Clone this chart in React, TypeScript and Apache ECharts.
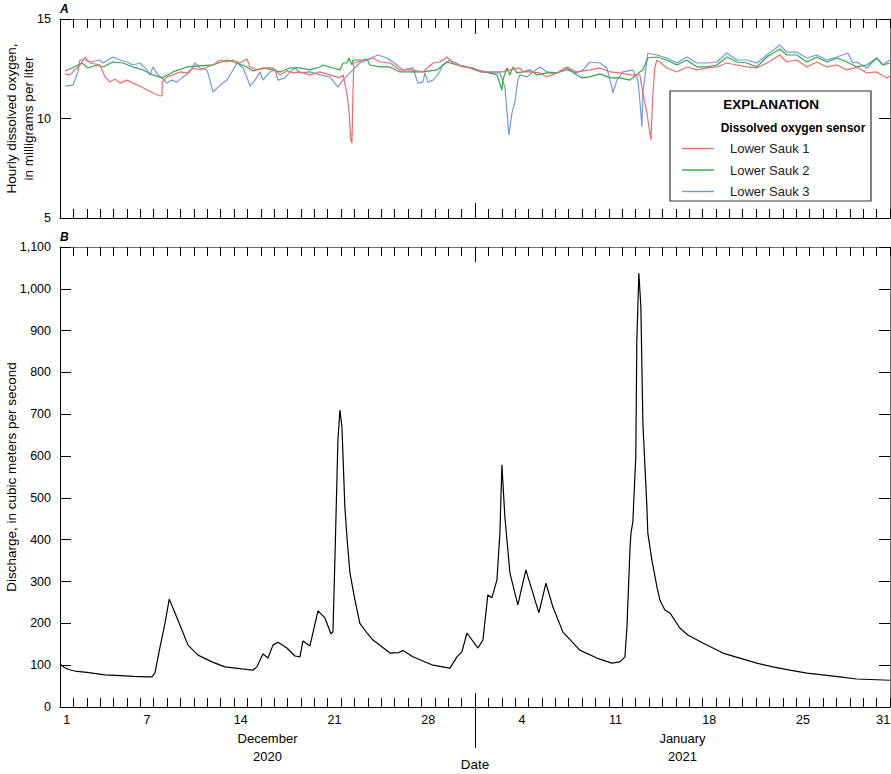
import React, { useEffect, useRef } from 'react';
import * as echarts from 'echarts';

const FONT = '"Liberation Sans", Arial, sans-serif';

// x axis: days since 2020-12-01 00:00
const totalDays = 62;
const yearBoundaryDay = 31;
const dayTickLabels = ['1', '7', '14', '21', '28', '4', '11', '18', '25', '31'];
const dayTickOffsets = [0, 6, 13, 20, 27, 34, 41, 48, 55, 61];
const monthLabels = ['December\n2020', 'January\n2021'];
const monthCenterDays = [15.5, 46.5];

const seriesNames = ['Lower Sauk 1', 'Lower Sauk 2', 'Lower Sauk 3'];
const seriesColors = ['#f06a6a', '#2fa84a', '#7199dc'];

// [day, mg/L]
const lowerSauk1: [number, number][] = [
  [0.37, 12.24], [0.75, 12.19], [1.49, 12.69], [1.87, 13.09], [2.24, 12.79], [2.99, 12.69], [3.14, 12.44], [3.36, 12.09],
  [3.73, 11.83], [4.11, 11.98], [4.48, 11.78], [5.0, 11.93], [5.45, 11.78], [5.97, 11.63], [6.5, 11.43], [6.95, 11.28],
  [7.47, 11.13], [7.62, 11.15], [7.64, 11.83], [7.99, 12.09], [8.44, 12.19], [8.96, 12.34], [9.48, 12.29], [9.93, 12.54],
  [10.46, 12.44], [10.98, 12.59], [11.43, 12.69], [11.95, 12.94], [12.47, 12.84], [12.92, 12.94], [13.44, 12.79], [13.97, 12.99],
  [14.19, 12.59], [14.71, 12.44], [15.46, 12.54], [15.91, 12.54], [16.43, 12.19], [16.95, 12.39], [17.4, 12.29], [17.92, 12.34],
  [18.67, 12.19], [19.42, 12.34], [20.16, 12.19], [20.91, 12.04], [21.14, 12.19], [21.43, 11.28], [21.58, 10.43], [21.73, 8.92],
  [21.81, 8.77], [21.88, 11.28], [21.95, 12.79], [22.18, 12.84], [22.93, 12.94], [23.38, 13.04], [23.9, 12.84], [24.65, 12.79],
  [25.39, 12.44], [26.14, 12.44], [27.11, 12.34], [27.86, 12.79], [28.38, 12.84], [28.9, 13.09], [29.35, 12.79], [30.1, 12.59],
  [30.84, 12.54], [31.59, 12.34], [32.34, 12.34], [33.08, 12.34], [33.61, 12.44], [34.35, 12.54], [34.58, 12.34], [35.1, 12.34],
  [35.85, 12.29], [36.37, 12.09], [37.12, 12.29], [37.86, 12.59], [38.61, 12.34], [39.58, 12.44], [40.33, 12.54], [41.08, 12.34],
  [41.82, 12.29], [42.57, 12.19], [43.31, 12.19], [43.54, 11.28], [43.84, 10.28], [44.14, 8.92], [44.29, 11.28], [44.44, 12.59],
  [44.59, 12.94], [44.81, 12.84], [45.33, 12.54], [46.08, 12.34], [46.83, 12.59], [47.57, 12.44], [48.32, 12.54], [49.07, 12.59],
  [49.81, 12.79], [50.56, 12.69], [51.31, 12.59], [52.05, 12.54], [52.8, 12.79], [53.77, 13.19], [54.29, 12.84], [55.04, 12.94],
  [55.79, 12.59], [56.54, 12.84], [57.27, 12.59], [58.03, 12.69], [58.78, 12.44], [59.52, 12.59], [60.27, 12.29], [61.01, 12.34],
  [61.76, 12.04], [61.99, 12.14],
];

const lowerSauk2: [number, number][] = [
  [0.37, 12.39], [0.9, 12.54], [1.64, 12.79], [2.09, 12.54], [2.76, 12.69], [3.21, 12.59], [3.96, 12.84], [4.71, 12.79],
  [5.45, 12.59], [6.2, 12.44], [6.95, 12.19], [7.62, 12.04], [8.44, 12.34], [9.48, 12.59], [10.46, 12.64], [11.43, 12.69],
  [12.47, 12.94], [13.22, 12.79], [13.97, 12.59], [14.41, 12.39], [15.16, 12.54], [15.91, 12.44], [16.43, 12.34], [17.18, 12.54],
  [17.92, 12.54], [18.67, 12.44], [19.42, 12.59], [19.64, 12.69], [20.39, 12.54], [20.91, 12.44], [21.14, 12.79], [21.43, 12.79],
  [21.58, 13.04], [21.81, 12.69], [21.88, 12.94], [22.63, 12.94], [22.93, 12.99], [23.15, 12.69], [23.9, 12.59], [24.65, 12.59],
  [25.39, 12.34], [26.14, 12.34], [27.11, 12.34], [28.16, 12.44], [28.9, 12.84], [29.65, 12.69], [30.4, 12.59], [31.14, 12.44],
  [32.11, 12.29], [32.64, 12.19], [33.01, 11.43], [33.08, 11.93], [33.38, 12.54], [33.61, 12.19], [33.83, 12.59], [34.13, 12.29],
  [34.58, 12.34], [35.1, 12.44], [35.62, 12.19], [36.37, 12.29], [37.12, 12.29], [37.86, 12.54], [38.61, 12.19], [38.98, 12.04],
  [39.58, 12.09], [40.33, 12.24], [41.08, 12.04], [41.82, 12.04], [42.57, 11.93], [43.31, 12.34], [43.54, 12.44], [43.91, 13.04],
  [44.59, 13.09], [45.33, 12.94], [46.08, 12.69], [46.83, 12.94], [47.57, 12.59], [48.32, 12.59], [49.07, 12.69], [49.81, 13.09],
  [50.56, 12.84], [51.31, 12.79], [52.05, 12.59], [52.8, 13.09], [53.77, 13.49], [54.29, 13.19], [55.04, 13.19], [55.79, 12.84],
  [56.54, 13.09], [57.27, 12.84], [58.03, 13.04], [58.78, 12.84], [59.52, 12.59], [60.27, 12.69], [61.01, 13.04], [61.46, 12.69],
  [61.99, 12.79],
];

const lowerSauk3: [number, number][] = [
  [0.37, 11.63], [0.97, 11.68], [1.34, 12.34], [1.49, 12.94], [1.87, 12.94], [2.24, 12.84], [2.99, 12.94], [3.21, 12.79],
  [3.96, 13.09], [4.48, 12.94], [5.0, 12.84], [5.45, 12.69], [5.97, 12.79], [6.5, 12.44], [6.72, 12.19], [6.95, 12.59],
  [7.32, 12.19], [7.62, 12.04], [7.99, 11.78], [8.36, 11.93], [8.74, 11.83], [9.19, 12.09], [9.71, 12.34], [10.08, 12.79],
  [10.46, 12.54], [10.98, 12.44], [11.2, 11.93], [11.43, 11.33], [11.95, 11.68], [12.47, 11.93], [12.92, 12.44], [13.22, 12.79],
  [13.67, 12.54], [14.04, 11.93], [14.19, 11.63], [14.56, 11.93], [14.94, 12.34], [15.16, 11.93], [15.68, 12.34], [16.06, 12.44],
  [16.28, 11.93], [16.8, 12.04], [17.18, 12.34], [17.55, 12.54], [17.92, 12.29], [18.67, 12.34], [19.42, 12.19], [20.16, 12.09],
  [20.76, 11.58], [21.14, 11.93], [21.51, 12.19], [21.88, 12.44], [22.4, 12.79], [22.93, 12.94], [23.75, 13.19], [24.42, 13.04],
  [24.87, 12.84], [25.62, 12.44], [26.36, 12.54], [26.74, 11.78], [27.11, 11.83], [27.26, 12.29], [27.48, 11.83], [27.86, 11.93],
  [28.23, 12.19], [28.6, 12.69], [29.13, 12.94], [29.87, 12.69], [30.62, 12.54], [31.37, 12.34], [32.11, 12.29], [32.86, 12.29],
  [33.23, 11.58], [33.38, 10.43], [33.53, 9.17], [33.76, 10.28], [33.98, 10.83], [34.2, 11.93], [34.35, 12.19], [34.88, 12.09],
  [35.32, 12.34], [35.85, 12.59], [36.37, 12.34], [37.12, 12.29], [37.86, 12.44], [38.61, 12.29], [39.06, 12.44], [39.58, 12.84],
  [40.33, 12.79], [40.85, 12.54], [41.22, 11.58], [41.3, 11.28], [41.6, 11.93], [42.05, 12.34], [42.79, 12.44], [43.17, 11.93],
  [43.31, 10.93], [43.47, 9.57], [43.54, 11.28], [43.69, 12.09], [43.91, 13.29], [44.59, 13.19], [45.33, 13.04], [46.08, 12.79],
  [46.83, 13.09], [47.57, 12.79], [48.32, 12.79], [49.07, 12.84], [49.81, 13.29], [50.56, 12.94], [51.31, 12.94], [52.05, 12.79],
  [52.8, 13.19], [53.77, 13.69], [54.29, 13.34], [55.04, 13.34], [55.79, 13.04], [56.54, 13.19], [57.27, 12.94], [58.03, 13.09],
  [58.86, 13.29], [59.22, 12.79], [59.52, 12.84], [60.27, 12.54], [61.01, 13.04], [61.46, 12.69], [61.99, 12.94],
];

// [day, m3/s]
const discharge: [number, number][] = [
  [0, 103], [0.3, 95], [0.7, 89], [1.12, 86], [2.0, 83], [3.36, 77], [4.5, 75], [5.5, 73], [6.57, 72], [6.87, 72],
  [7.09, 81], [7.47, 143], [7.84, 200], [8.16, 258], [8.59, 225], [9.11, 184], [9.56, 148], [10.31, 124], [11.35, 108],
  [12.32, 96], [13.59, 91], [14.41, 88], [14.71, 96], [15.16, 127], [15.53, 117], [15.91, 148], [16.28, 155], [16.95, 141],
  [17.55, 122], [17.92, 120], [18.15, 158], [18.67, 146], [19.27, 230], [19.79, 213], [20.24, 175], [20.39, 180], [20.54, 359],
  [20.76, 638], [20.91, 710], [21.06, 670], [21.28, 478], [21.45, 400], [21.66, 320], [22.03, 256], [22.4, 200], [22.93, 177],
  [23.38, 160], [24.65, 129], [25.3, 130], [25.62, 135], [26.36, 120], [27.86, 100], [29.13, 93], [29.65, 120], [30.02, 132],
  [30.4, 177], [31.22, 141], [31.59, 160], [31.96, 268], [32.26, 261], [32.64, 304], [32.86, 416], [33.01, 579], [33.23, 455],
  [33.61, 320], [34.2, 244], [34.8, 328], [35.25, 280], [35.77, 225], [36.3, 296], [36.82, 239], [37.57, 179], [38.83, 136],
  [40.1, 117], [41.22, 105], [41.82, 108], [42.2, 120], [42.35, 191], [42.58, 380], [42.65, 416], [42.79, 442], [43.01, 598],
  [43.09, 877], [43.24, 1038], [43.39, 957], [43.54, 679], [43.84, 478], [43.91, 416], [44.21, 352], [44.59, 287], [44.81, 256],
  [45.18, 232], [45.56, 225], [46.3, 189], [46.9, 172], [48.02, 153], [49.52, 129], [50.78, 117], [52.05, 105], [53.25, 96],
  [54.52, 88], [55.79, 81], [56.98, 77], [58.25, 72], [59.52, 67], [61.99, 64],
];

const doAxis = { min: 5, max: 15, interval: 5 };
const qAxis = { min: 0, max: 1100, interval: 100 };

const BLACK = '#000';
const GREY = '#6b6b6b';

function xBase(gridIndex: number, position: 'top' | 'bottom') {
  return {
    type: 'value', gridIndex, position, min: 0, max: totalDays, interval: 1,
    splitLine: { show: false }, axisLabel: { show: false },
  } as any;
}

function dayTicksAxis(gridIndex: number, position: 'top' | 'bottom', lineColor: string) {
  return {
    ...xBase(gridIndex, position),
    axisLine: { show: true, onZero: false, lineStyle: { color: lineColor, width: 1 } },
    axisTick: { show: true, inside: true, length: 9, lineStyle: { color: BLACK, width: 1 } },
  };
}

function yearTickAxis(gridIndex: number, position: 'top' | 'bottom', inside: boolean, length: number) {
  return {
    ...xBase(gridIndex, position),
    axisLine: { show: false, onZero: false },
    axisTick: { show: true, inside, length, customValues: [yearBoundaryDay], lineStyle: { color: BLACK, width: 1 } },
  };
}

export default function App() {
  const ref = useRef<HTMLDivElement>(null);

  useEffect(() => {
    if (!ref.current) return;
    const chart = echarts.init(ref.current, null, { renderer: 'svg' });

    const bottomLabels = {
      ...dayTicksAxis(1, 'bottom', BLACK),
      axisLabel: {
        show: true,
        customValues: dayTickOffsets.map((d) => d + 0.5),
        formatter: (v: number) => {
          const i = dayTickOffsets.indexOf(Math.round(v - 0.5));
          return i >= 0 ? dayTickLabels[i] : '';
        },
        margin: 6,
        color: BLACK,
        fontFamily: FONT,
        fontSize: 12.5,
      },
    };

    const monthAxis = {
      ...xBase(1, 'bottom'),
      axisLine: { show: false, onZero: false },
      axisTick: { show: false },
      axisLabel: {
        show: true,
        customValues: monthCenterDays,
        formatter: (v: number) => {
          const i = monthCenterDays.indexOf(v);
          return i >= 0 ? monthLabels[i] : '';
        },
        margin: 22,
        lineHeight: 18,
        color: BLACK,
        fontFamily: FONT,
        fontSize: 13,
      },
    };

    const dateAxis = {
      ...yearTickAxis(1, 'bottom', false, 41),
      name: 'Date',
      nameLocation: 'middle',
      nameGap: 50,
      nameMoveOverlap: false,
      nameTextStyle: { color: BLACK, fontFamily: FONT, fontSize: 13.5 },
    };

    const yCommon = (gridIndex: number, position: 'left' | 'right', range: any, lineColor: string) => ({
      type: 'value', gridIndex, position, ...range,
      splitLine: { show: false },
      axisLine: { show: true, onZero: false, lineStyle: { color: lineColor, width: 1 } },
      axisTick: { show: true, inside: true, length: 11, lineStyle: { color: BLACK, width: 1 } },
      axisLabel: { show: false },
    });

    const option: any = {
      animation: false,
      backgroundColor: '#fff',
      textStyle: { fontFamily: FONT },
      title: [
        { text: 'A', left: 60, top: 3, padding: 0, textStyle: { fontFamily: FONT, fontSize: 12, fontWeight: 'bold', fontStyle: 'italic', color: BLACK } },
        { text: 'B', left: 60, top: 231, padding: 0, textStyle: { fontFamily: FONT, fontSize: 12, fontWeight: 'bold', fontStyle: 'italic', color: BLACK } },
      ],
      grid: [
        { left: 60, top: 19, width: 830, height: 199, outerBoundsMode: 'none', containLabel: false },
        { left: 60, top: 247, width: 830, height: 460, outerBoundsMode: 'none', containLabel: false },
      ],
      xAxis: [
        dayTicksAxis(0, 'bottom', BLACK),
        dayTicksAxis(0, 'top', GREY),
        yearTickAxis(0, 'bottom', true, 15),
        yearTickAxis(0, 'top', true, 15),
        bottomLabels,
        dayTicksAxis(1, 'top', GREY),
        yearTickAxis(1, 'bottom', true, 14),
        yearTickAxis(1, 'top', true, 15),
        dateAxis,
        monthAxis,
      ],
      yAxis: [
        {
          ...yCommon(0, 'left', doAxis, BLACK),
          axisLabel: { show: true, margin: 9, color: BLACK, fontFamily: FONT, fontSize: 12.5 },
          name: 'Hourly dissolved oxygen,\nin milligrams per liter',
          nameLocation: 'middle',
          nameGap: 23,
          nameMoveOverlap: false,
          nameTextStyle: { color: BLACK, fontFamily: FONT, fontSize: 13.5, lineHeight: 17 },
        },
        yCommon(0, 'right', doAxis, GREY),
        {
          ...yCommon(1, 'left', qAxis, BLACK),
          axisLabel: {
            show: true, margin: 9, color: BLACK, fontFamily: FONT, fontSize: 12.5,
            formatter: (v: number) => v.toLocaleString('en-US'),
          },
          name: 'Discharge, in cubic meters per second',
          nameLocation: 'middle',
          nameGap: 41,
          nameMoveOverlap: false,
          nameTextStyle: { color: BLACK, fontFamily: FONT, fontSize: 13.5, lineHeight: 15 },
        },
        yCommon(1, 'right', qAxis, GREY),
      ],
      legend: {
        data: seriesNames,
        orient: 'vertical',
        left: 677,
        top: 136,
        icon: 'rect',
        itemWidth: 32,
        itemHeight: 1.4,
        itemGap: 6.5,
        selectedMode: false,
        z: 20,
        textStyle: { color: '#222', fontFamily: FONT, fontSize: 13, lineHeight: 15, padding: [0, 0, 0, 11] },
      },
      graphic: [
        {
          type: 'rect', z: 10, shape: { x: 670, y: 91, width: 201, height: 110 },
          style: { fill: '#fff', stroke: '#333', lineWidth: 1.2 },
        },
        {
          type: 'text', z: 11, x: 771, y: 104,
          style: { text: 'EXPLANATION', fill: BLACK, font: `bold 13.5px ${FONT}`, textAlign: 'center', textVerticalAlign: 'middle' },
        },
        {
          type: 'text', z: 11, x: 793, y: 127.5,
          style: { text: 'Dissolved oxygen sensor', fill: BLACK, font: `bold 12px ${FONT}`, textAlign: 'center', textVerticalAlign: 'middle' },
        },
      ],
      series: [
        ...[lowerSauk1, lowerSauk2, lowerSauk3].map((d, i) => ({
          name: seriesNames[i],
          type: 'line',
          xAxisIndex: 0,
          yAxisIndex: 0,
          data: d,
          symbol: 'none',
          z: 2 + (2 - i) * 0.1,
          lineStyle: { color: seriesColors[i], width: 1.2 },
          itemStyle: { color: seriesColors[i] },
        })),
        {
          name: 'Discharge',
          type: 'line',
          xAxisIndex: 4,
          yAxisIndex: 2,
          data: discharge,
          symbol: 'none',
          lineStyle: { color: BLACK, width: 1.2 },
        },
      ],
    };

    chart.setOption(option);
    return () => chart.dispose();
  }, []);

  return <div ref={ref} style={{ position: 'absolute', left: 0, top: 0, width: 891, height: 774 }} />;
}
